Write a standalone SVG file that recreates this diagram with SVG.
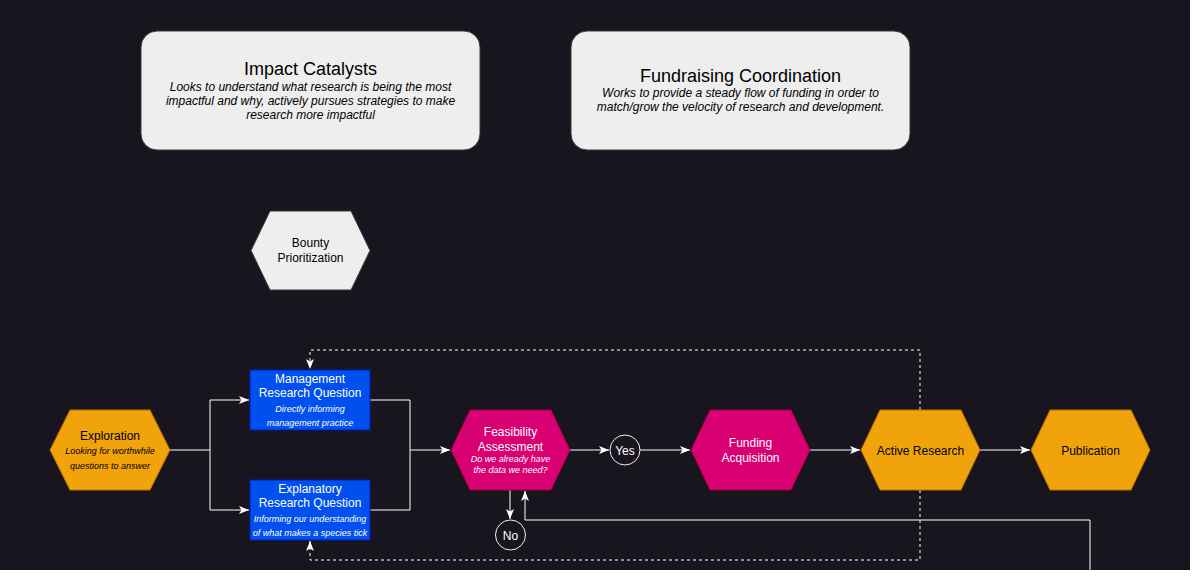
<svg xmlns="http://www.w3.org/2000/svg" width="1192" height="579" viewBox="0 0 1192 579">
<style>
.t{font-family:"Liberation Sans",Arial,sans-serif;text-anchor:middle}
.i{font-style:italic}
.grey{fill:#eeeeee;stroke:#36393d;stroke-width:1}
.orange{fill:#f0a30a;stroke:#bd7000;stroke-width:1}
.pink{fill:#d80073;stroke:#a50040;stroke-width:1}
.blue{fill:#0050ef;stroke:#001dbc;stroke-width:1}
.circ{fill:#18151e;stroke:#f0f0f0;stroke-width:1}
.ln{fill:none;stroke:#ffffff;stroke-width:1}
.dash{stroke-dasharray:3 3}
</style>
<defs>
<marker id="arr" markerUnits="userSpaceOnUse" markerWidth="11" markerHeight="9" refX="10" refY="4" orient="auto">
<path d="M0,0 L10,4 L0,8 L2.5,4 z" fill="#ffffff"/>
</marker>
</defs>
<rect x="0" y="0" width="1192" height="579" fill="#ffffff"/>
<rect x="0" y="0" width="1190" height="570" fill="#18151e"/>

<g id="connectors">
<polyline class="ln" points="170,450 210,450 210,400 249,400" marker-end="url(#arr)"/>
<polyline class="ln" points="210,450 210,510 249,510" marker-end="url(#arr)"/>
<polyline class="ln" points="370,400 410,400 410,450 450,450" marker-end="url(#arr)"/>
<polyline class="ln" points="370,510 410,510 410,450"/>
<polyline class="ln" points="570,450 609,450" marker-end="url(#arr)"/>
<polyline class="ln" points="640,450 690,450" marker-end="url(#arr)"/>
<polyline class="ln" points="810,450 860,450" marker-end="url(#arr)"/>
<polyline class="ln" points="980,450 1030,450" marker-end="url(#arr)"/>
<polyline class="ln" points="510,490 510,519" marker-end="url(#arr)"/>
<polyline class="ln" points="1090,570 1090,520 525,520 525,491" marker-end="url(#arr)"/>
<polyline class="ln dash" points="920,410 920,350 310,350 310,369" marker-end="url(#arr)"/>
<polyline class="ln dash" points="920,490 920,560 310,560 310,541" marker-end="url(#arr)"/>
</g>

<g id="impact-catalysts">
<rect class="grey" x="141" y="31" width="339" height="119" rx="16"/>
<text class="t" x="310.5" y="75" font-size="18" fill="#000">Impact Catalysts</text>
<text class="t i" font-size="12" fill="#000"><tspan x="310.5" y="91">Looks to understand what research is being the most</tspan><tspan x="310.5" y="105">impactful and why, actively pursues strategies to make</tspan><tspan x="310.5" y="119">research more impactful</tspan></text>
</g>

<g id="fundraising-coordination">
<rect class="grey" x="571" y="31" width="339" height="119" rx="16"/>
<text class="t" x="740.5" y="82" font-size="18" fill="#000">Fundraising Coordination</text>
<text class="t i" font-size="12" fill="#000"><tspan x="740.5" y="97">Works to provide a steady flow of funding in order to</tspan><tspan x="740.5" y="111">match/grow the velocity of research and development.</tspan></text>
</g>

<g id="bounty-prioritization">
<polygon class="grey" points="270,211 351,211 370,250.5 351,290 270,290 251,250.5"/>
<text class="t" font-size="12" fill="#000"><tspan x="310.5" y="247">Bounty</tspan><tspan x="310.5" y="262">Prioritization</tspan></text>
</g>

<g id="exploration">
<polygon class="orange" points="70,410 150,410 170,450 150,490 70,490 50,450"/>
<text class="t" x="110" y="440" font-size="12" fill="#000">Exploration</text>
<text class="t i" font-size="9" fill="#000"><tspan x="110" y="454">Looking for worthwhile</tspan><tspan x="110" y="469">questions to answer</tspan></text>
</g>

<g id="management-question">
<rect class="blue" x="250" y="370" width="120" height="60"/>
<text class="t" font-size="12" fill="#fff"><tspan x="310" y="383">Management</tspan><tspan x="310" y="397">Research Question</tspan></text>
<text class="t i" font-size="9" fill="#fff"><tspan x="310" y="412">Directly informing</tspan><tspan x="310" y="426">management practice</tspan></text>
</g>

<g id="explanatory-question">
<rect class="blue" x="250" y="480" width="120" height="60"/>
<text class="t" font-size="12" fill="#fff"><tspan x="310" y="493">Explanatory</tspan><tspan x="310" y="507">Research Question</tspan></text>
<text class="t i" font-size="9" fill="#fff"><tspan x="310" y="522">Informing our understanding</tspan><tspan x="310" y="536">of what makes a species tick</tspan></text>
</g>

<g id="feasibility-assessment">
<polygon class="pink" points="470,410 551,410 570,450 551,490 470,490 451,450"/>
<text class="t" font-size="12" fill="#fff"><tspan x="510.5" y="436">Feasibility</tspan><tspan x="510.5" y="451">Assessment</tspan></text>
<text class="t i" font-size="9" fill="#fff"><tspan x="510.5" y="462">Do we already have</tspan><tspan x="510.5" y="473">the data we need?</tspan></text>
</g>

<g id="yes">
<circle class="circ" cx="625" cy="450" r="15"/>
<text class="t" x="625" y="454.5" font-size="12" fill="#fff">Yes</text>
</g>

<g id="no">
<circle class="circ" cx="510.5" cy="535" r="15"/>
<text class="t" x="510.5" y="539.5" font-size="12" fill="#fff">No</text>
</g>

<g id="funding-acquisition">
<polygon class="pink" points="710,410 791,410 810,450 791,490 710,490 691,450"/>
<text class="t" font-size="12" fill="#fff"><tspan x="750.5" y="447">Funding</tspan><tspan x="750.5" y="462">Acquisition</tspan></text>
</g>

<g id="active-research">
<polygon class="orange" points="880,410 961,410 980,450 961,490 880,490 861,450"/>
<text class="t" x="920.5" y="454.5" font-size="12" fill="#000">Active Research</text>
</g>

<g id="publication">
<polygon class="orange" points="1050,410 1131,410 1150,450 1131,490 1050,490 1031,450"/>
<text class="t" x="1090.5" y="454.5" font-size="12" fill="#000">Publication</text>
</g>
</svg>
